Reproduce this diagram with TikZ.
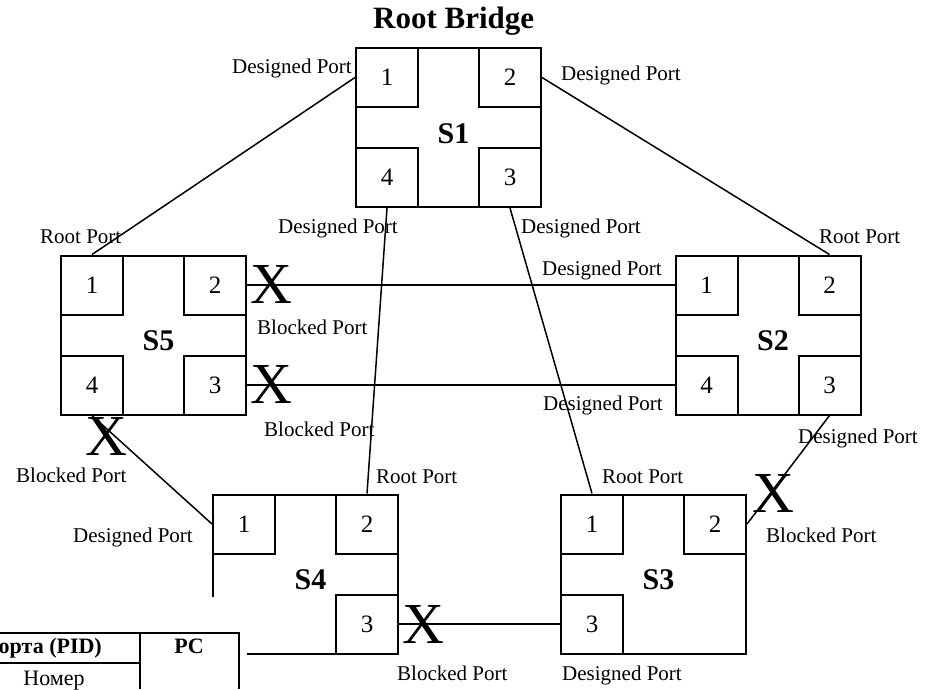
\documentclass[tikz,border=0pt]{standalone}
\usepackage{fontspec}
\setmainfont{Liberation Serif}
\usetikzlibrary{positioning, calc}

\tikzset{
  sw/.style={draw, line width=2pt, minimum width=185pt, minimum height=159pt, inner sep=0pt},
  prt/.style={draw, line width=2pt, minimum width=62pt, minimum height=59pt, inner sep=0pt, font=\fontsize{25}{27}\selectfont},
  swname/.style={font=\fontsize{30}{32}\selectfont\bfseries, inner sep=0pt},
  lbl/.style={font=\fontsize{21}{23}\selectfont, inner sep=0pt, anchor=base west},
  blk/.style={font=\fontsize{58}{60}\selectfont, inner sep=0pt},
  link/.style={line width=1.5pt},
  tbl/.style={line width=2.5pt},
  tbltxt/.style={font=\fontsize{22}{24}\selectfont, inner sep=0pt}
}

\begin{document}
\begin{tikzpicture}[x=1pt, y=-1pt]
\useasboundingbox (0,0) rectangle (937,689);

% switches
\node[sw] (s1) at (448.5,127.5) {};
\node[sw] (s5) at (153.5,335) {};
\node[sw] (s2) at (768,335) {};
\node[sw] (s3) at (653.5,574) {};
\node[sw] (s4) at (305.5,574) {};

\node[swname, xshift=5pt, yshift=-6pt] (s1name) at (s1) {S1};
\node[swname, xshift=5pt, yshift=-6pt] (s5name) at (s5) {S5};
\node[swname, xshift=5pt, yshift=-6pt] (s2name) at (s2) {S2};
\node[swname, xshift=5pt, yshift=-6pt] (s3name) at (s3) {S3};
\node[swname, xshift=5pt, yshift=-6pt] (s4name) at (s4) {S4};

% ports
\node[prt, anchor=north west] (s1p1) at (s1.north west) {1};
\node[prt, anchor=north east] (s1p2) at (s1.north east) {2};
\node[prt, anchor=south east] (s1p3) at (s1.south east) {3};
\node[prt, anchor=south west] (s1p4) at (s1.south west) {4};

\node[prt, anchor=north west] (s5p1) at (s5.north west) {1};
\node[prt, anchor=north east] (s5p2) at (s5.north east) {2};
\node[prt, anchor=south east] (s5p3) at (s5.south east) {3};
\node[prt, anchor=south west] (s5p4) at (s5.south west) {4};

\node[prt, anchor=north west] (s2p1) at (s2.north west) {1};
\node[prt, anchor=north east] (s2p2) at (s2.north east) {2};
\node[prt, anchor=south east] (s2p3) at (s2.south east) {3};
\node[prt, anchor=south west] (s2p4) at (s2.south west) {4};

\node[prt, anchor=north west] (s3p1) at (s3.north west) {1};
\node[prt, anchor=north east] (s3p2) at (s3.north east) {2};
\node[prt, anchor=south west] (s3p3) at (s3.south west) {3};

\node[prt, anchor=north west] (s4p1) at (s4.north west) {1};
\node[prt, anchor=north east] (s4p2) at (s4.north east) {2};
\node[prt, anchor=south east] (s4p3) at (s4.south east) {3};

% links
\draw[link] (s1p1.west) -- (s5p1.north);
\draw[link] (s1p2.east) -- (s2p2.north);
\draw[link] (s1p4.south) -- (s4p2.north);
\draw[link] (s1p3.south) -- (s3p1.north);
\draw[link] (s5p2.east) -- (s2p1.west);
\draw[link] (s5p3.east) -- (s2p4.west);
\draw[link] (s5p4.south) -- (s4p1.west);
\draw[link] (s2p3.south) -- (s3p2.east);
\draw[link] (s4p3.east) -- (s3p3.west);

% blocked ports
\node[blk, right=3pt of s5p2] (x52) {X};
\node[blk, right=3pt of s5p3] (x53) {X};
\node[blk, below=2pt of s5p4, xshift=14pt] (x54) {X};
\node[blk] (x32) at ($(s3p2.east)+(26,-30)$) {X};
\node[blk, right=3pt of s4p3] (x43) {X};

% port roles
\node[font=\fontsize{31}{33}\selectfont\bfseries, inner sep=0pt, anchor=base west] (root) at (373,28) {Root Bridge};
\node[lbl] (l1) at (232,73) {Designed Port};
\node[lbl] (l2) at (561,80) {Designed Port};
\node[lbl] (l3) at (40,243) {Root Port};
\node[lbl] (l4) at (278,233) {Designed Port};
\node[lbl] (l5) at (521,233) {Designed Port};
\node[lbl] (l6) at (819,243) {Root Port};
\node[lbl] (l7) at (542,275) {Designed Port};
\node[lbl] (l8) at (257,334) {Blocked Port};
\node[lbl] (l9) at (543,410) {Designed Port};
\node[lbl] (l10) at (264,436) {Blocked Port};
\node[lbl] (l11) at (798,443) {Designed Port};
\node[lbl] (l12) at (16,482) {Blocked Port};
\node[lbl] (l13) at (376,483) {Root Port};
\node[lbl] (l14) at (602,483) {Root Port};
\node[lbl] (l15) at (73,542) {Designed Port};
\node[lbl] (l16) at (766,542) {Blocked Port};
\node[lbl] (l17) at (397,680) {Blocked Port};
\node[lbl] (l18) at (562,680) {Designed Port};

% table fragment over S4
\fill[white] (200,597) rectangle (246.5,662);
\draw[tbl] (0,633) -- (239,633) -- (239,689);
\draw[tbl] (140,633) -- (140,689);
\draw[tbl] (0,663) -- (140,663);
\node[tbltxt, font=\fontsize{22}{24}\selectfont\bfseries, anchor=base east] (pid) at (102,653) {орта (PID)};
\node[tbltxt, font=\fontsize{22}{24}\selectfont\bfseries, anchor=base] (pc) at (189,653) {PC};
\node[tbltxt, anchor=base] (num) at (54,685) {Номер};
\end{tikzpicture}
\end{document}
